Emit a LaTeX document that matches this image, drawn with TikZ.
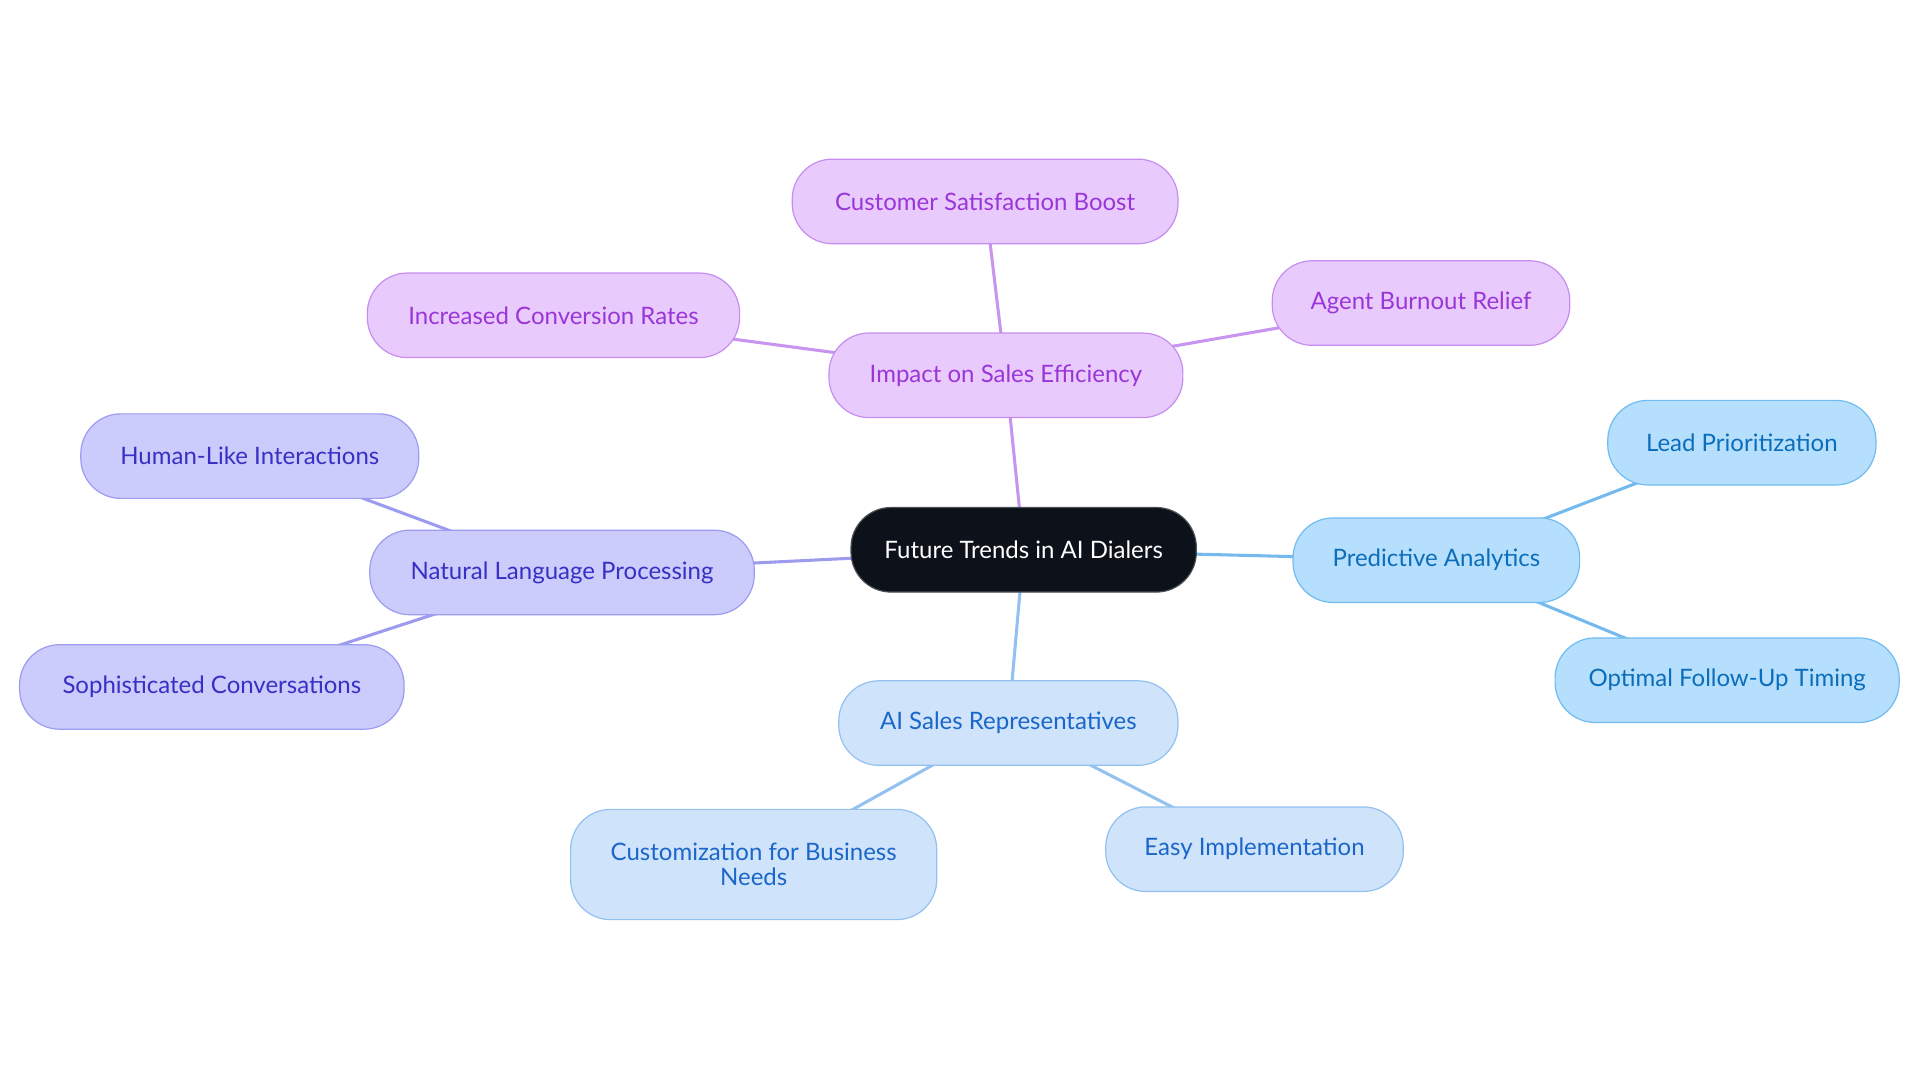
\documentclass[tikz,border=0pt]{standalone}
\usepackage{fontspec}
\setmainfont{Lato}
\usetikzlibrary{backgrounds}

\definecolor{hubfill}{HTML}{0C111A}
\definecolor{hubdraw}{HTML}{4A4E55}
\definecolor{purfill}{HTML}{E8CBFC}
\definecolor{purdraw}{HTML}{C58DF0}
\definecolor{purtext}{HTML}{9A35D8}
\definecolor{puredge}{HTML}{C795EF}
\definecolor{lavfill}{HTML}{CBCBFC}
\definecolor{lavdraw}{HTML}{9C9CF0}
\definecolor{lavtext}{HTML}{3730C4}
\definecolor{laveedge}{HTML}{9D9BEE}
\definecolor{skyfill}{HTML}{B5DFFC}
\definecolor{skydraw}{HTML}{70BCF0}
\definecolor{skytext}{HTML}{0C6DBA}
\definecolor{skyedge}{HTML}{74BAEE}
\definecolor{palefill}{HTML}{CFE3FB}
\definecolor{paledraw}{HTML}{93C1EF}
\definecolor{paletext}{HTML}{1A66C9}
\definecolor{paleedge}{HTML}{94C2F0}

\tikzset{every picture/.style={line width=0.75pt}}
\tikzset{
  pill/.style={rectangle, rounded corners=30pt, minimum height=63.4pt, line width=0.9pt, inner sep=0pt, font=\fontsize{18}{18.4}\selectfont, align=center},
  wd/.style={minimum width=#1*0.9184pt},
  hub/.style={pill, fill=hubfill, draw=hubdraw, text=white},
  purnode/.style={pill, fill=purfill, draw=purdraw, text=purtext},
  lavnode/.style={pill, fill=lavfill, draw=lavdraw, text=lavtext},
  skynode/.style={pill, fill=skyfill, draw=skydraw, text=skytext},
  palenode/.style={pill, fill=palefill, draw=paledraw, text=paletext},
  link/.style={line width=2.3pt}
}

\begin{document}
\begin{tikzpicture}[x=0.9184pt,y=0.9184pt,yscale=-1,xscale=1]
\useasboundingbox (0,0) rectangle (1568,884.4);

% Centre
\node [hub, wd=282] (trends) at (836,449) {Future Trends in AI Dialers};

% Impact branch
\node [purnode, wd=289] (impact) at (821.5,306.5) {Impact on Sales Efficiency};
\node [purnode, wd=315] (satisf) at (804.5,164.5) {Customer Satisfaction Boost};
\node [purnode, wd=304] (convert) at (452,257.5) {Increased Conversion Rates};
\node [purnode, wd=243] (burnout) at (1160.5,247.5) {Agent Burnout Relief};

% NLP branch
\node [lavnode, wd=314] (nlp) at (459,467.5) {Natural Language Processing};
\node [lavnode, wd=276] (humanlike) at (204,372.5) {Human-Like Interactions};
\node [lavnode, wd=314] (convers) at (173,561) {Sophisticated Conversations};

% Predictive branch
\node [skynode, wd=234] (predict) at (1173,457.5) {Predictive Analytics};
\node [skynode, wd=219] (leadprio) at (1422.5,361.5) {Lead Prioritization};
\node [skynode, wd=281] (followup) at (1410.5,555.5) {Optimal Follow-Up Timing};

% AI sales branch
\node [palenode, wd=277] (aisales) at (823.5,590.5) {AI Sales Representatives};
\node [palenode, wd=299, minimum height=82.7pt] (custom) at (615.5,706) {Customization for Business\\Needs};
\node [palenode, wd=243] (easyimpl) at (1024.5,693.5) {Easy Implementation};

% Links
\begin{pgfonlayer}{background}
\draw [link, puredge] (trends.center) -- (impact.center);
\draw [link, puredge] (impact.center) -- (satisf.center);
\draw [link, puredge] (impact.center) -- (convert.center);
\draw [link, puredge] (impact.center) -- (burnout.center);
\draw [link, laveedge] (trends.center) -- (nlp.center);
\draw [link, laveedge] (nlp.center) -- (humanlike.center);
\draw [link, laveedge] (nlp.center) -- (convers.center);
\draw [link, skyedge] (trends.center) -- (predict.center);
\draw [link, skyedge] (predict.center) -- (leadprio.center);
\draw [link, skyedge] (predict.center) -- (followup.center);
\draw [link, paleedge] (trends.center) -- (aisales.center);
\draw [link, paleedge] (aisales.center) -- (custom.center);
\draw [link, paleedge] (aisales.center) -- (easyimpl.center);
\end{pgfonlayer}

\end{tikzpicture}
\end{document}
